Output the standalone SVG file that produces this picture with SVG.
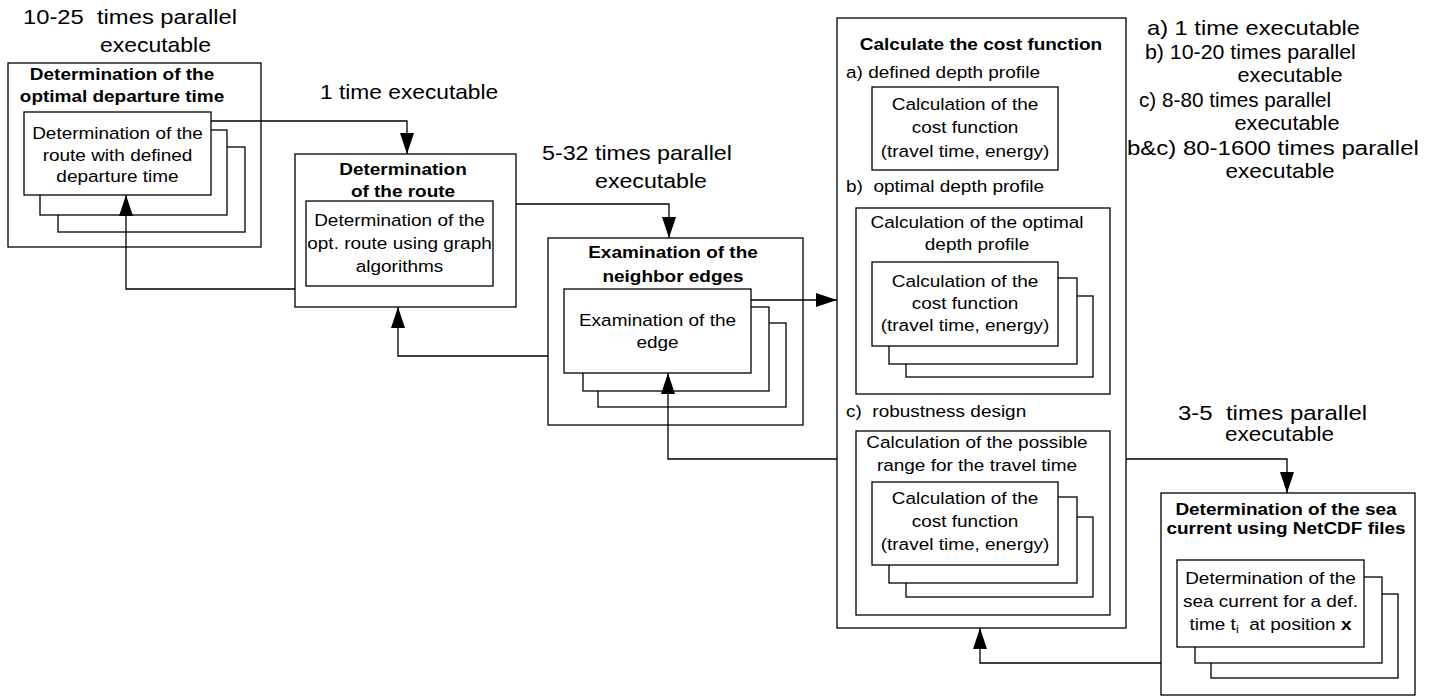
<svg xmlns="http://www.w3.org/2000/svg" width="1432" height="698" viewBox="0 0 1432 698">
<style>
.box{fill:#fff;stroke:#000;stroke-width:1.3}
.t{font-family:"Liberation Sans",Arial,sans-serif;font-size:16.5px;fill:#000}
.c{text-anchor:middle}
.b{font-weight:bold}
.big{font-family:"Liberation Sans",Arial,sans-serif;font-size:20.5px;fill:#000}
.conn{fill:none;stroke:#000;stroke-width:1.3}
</style>
<defs>
<marker id="ah" markerUnits="userSpaceOnUse" markerWidth="22" markerHeight="14" viewBox="0 0 22 14" refX="21" refY="7" orient="auto">
<path d="M0,0 L21,7 L0,14 Z" fill="#000"/>
</marker>
</defs>
<rect width="1432" height="698" fill="#fff"/>

<g id="labels">
<text class="big" transform="translate(23,24) scale(1.16,1)">10-25&#160; times parallel</text>
<text class="big" transform="translate(100,52) scale(1.12,1)">executable</text>
<text class="big" transform="translate(320,99) scale(1.11,1)">1 time executable</text>
<text class="big" transform="translate(542,160) scale(1.135,1)">5-32 times parallel</text>
<text class="big" transform="translate(595,188) scale(1.13,1)">executable</text>
<text class="big" transform="translate(1178,420) scale(1.17,1)">3-5&#160; times parallel</text>
<text class="big" transform="translate(1225,441) scale(1.1,1)">executable</text>
<text class="big" transform="translate(1147,35) scale(1.154,1)">a) 1 time executable</text>
<text class="big" transform="translate(1145,59) scale(1.04,1)">b) 10-20 times parallel</text>
<text class="big c" transform="translate(1290,82) scale(1.06,1)">executable</text>
<text class="big" transform="translate(1139,107) scale(1.01,1)">c) 8-80 times parallel</text>
<text class="big c" transform="translate(1287,130) scale(1.06,1)">executable</text>
<text class="big" transform="translate(1127,155) scale(1.17,1)">b&amp;c) 80-1600 times parallel</text>
<text class="big c" transform="translate(1280,178) scale(1.1,1)">executable</text>
</g>

<g id="departure">
<rect class="box" x="8" y="63" width="253" height="184"/>
<text class="t b c" transform="translate(122,80) scale(1.15,1)">Determination of the</text>
<text class="t b c" transform="translate(122,102) scale(1.15,1)">optimal departure time</text>
<rect class="box" x="58" y="147" width="187" height="85"/>
<rect class="box" x="40" y="130" width="187" height="85"/>
<rect class="box" x="24" y="112" width="187" height="83"/>
<text class="t c" transform="translate(117.5,139) scale(1.15,1)">Determination of the</text>
<text class="t c" transform="translate(117.5,161) scale(1.15,1)">route with defined</text>
<text class="t c" transform="translate(117.5,182) scale(1.15,1)">departure time</text>
</g>

<g id="route">
<rect class="box" x="295" y="154" width="221" height="153"/>
<text class="t b c" transform="translate(403,175) scale(1.15,1)">Determination</text>
<text class="t b c" transform="translate(403,197) scale(1.15,1)">of the route</text>
<rect class="box" x="306" y="201" width="187" height="85"/>
<text class="t c" transform="translate(399.5,226) scale(1.15,1)">Determination of the</text>
<text class="t c" transform="translate(399.5,249) scale(1.15,1)">opt. route using graph</text>
<text class="t c" transform="translate(399.5,272) scale(1.15,1)">algorithms</text>
</g>

<g id="neighbor">
<rect class="box" x="548" y="238" width="255" height="187"/>
<text class="t b c" transform="translate(673,258) scale(1.15,1)">Examination of the</text>
<text class="t b c" transform="translate(673,282) scale(1.15,1)">neighbor edges</text>
<rect class="box" x="598" y="323" width="188" height="84"/>
<rect class="box" x="583" y="307" width="186" height="84"/>
<rect class="box" x="564" y="289" width="187" height="84"/>
<text class="t c" transform="translate(657.5,326) scale(1.15,1)">Examination of the</text>
<text class="t c" transform="translate(657.5,348) scale(1.15,1)">edge</text>
</g>

<g id="cost">
<rect class="box" x="837" y="18" width="289" height="610"/>
<text class="t b c" transform="translate(981,50) scale(1.15,1)">Calculate the cost function</text>
<text class="t" transform="translate(846,78) scale(1.15,1)">a) defined depth profile</text>
<rect class="box" x="872" y="87" width="186" height="83"/>
<text class="t c" transform="translate(965,110) scale(1.15,1)">Calculation of the</text>
<text class="t c" transform="translate(965,133) scale(1.15,1)">cost function</text>
<text class="t c" transform="translate(965,157) scale(1.15,1)">(travel time, energy)</text>
<text class="t" transform="translate(846,192) scale(1.15,1)">b)&#160; optimal depth profile</text>
<rect class="box" x="856" y="208" width="254" height="186"/>
<text class="t c" transform="translate(977,228) scale(1.15,1)">Calculation of the optimal</text>
<text class="t c" transform="translate(977,250) scale(1.15,1)">depth profile</text>
<rect class="box" x="906" y="296" width="187" height="81"/>
<rect class="box" x="889" y="278" width="188" height="86"/>
<rect class="box" x="872" y="262" width="186" height="84"/>
<text class="t c" transform="translate(965,287) scale(1.15,1)">Calculation of the</text>
<text class="t c" transform="translate(965,309) scale(1.15,1)">cost function</text>
<text class="t c" transform="translate(965,331) scale(1.15,1)">(travel time, energy)</text>
<text class="t" transform="translate(846,417) scale(1.15,1)">c)&#160; robustness design</text>
<rect class="box" x="856" y="431" width="254" height="184"/>
<text class="t c" transform="translate(977,448) scale(1.15,1)">Calculation of the possible</text>
<text class="t c" transform="translate(977,471) scale(1.15,1)">range for the travel time</text>
<rect class="box" x="906" y="517" width="187" height="80"/>
<rect class="box" x="889" y="497" width="188" height="86"/>
<rect class="box" x="872" y="482" width="186" height="83"/>
<text class="t c" transform="translate(965,504) scale(1.15,1)">Calculation of the</text>
<text class="t c" transform="translate(965,527) scale(1.15,1)">cost function</text>
<text class="t c" transform="translate(965,550) scale(1.15,1)">(travel time, energy)</text>
</g>

<g id="sea">
<rect class="box" x="1161" y="493" width="254" height="202"/>
<text class="t b c" transform="translate(1286,515) scale(1.15,1)">Determination of the sea</text>
<text class="t b c" transform="translate(1286,534) scale(1.15,1)">current using NetCDF files</text>
<rect class="box" x="1211" y="594" width="187" height="84"/>
<rect class="box" x="1195" y="577" width="187" height="86"/>
<rect class="box" x="1177" y="560" width="187" height="87"/>
<text class="t c" transform="translate(1270.5,584) scale(1.15,1)">Determination of the</text>
<text class="t c" transform="translate(1270.5,607) scale(1.15,1)">sea current for a def.</text>
<text class="t c" transform="translate(1270.5,630) scale(1.15,1)">time t<tspan font-size="11" dy="3">i</tspan><tspan dy="-3">&#160; at position </tspan><tspan font-weight="bold">x</tspan></text>
</g>

<g id="connectors">
<path class="conn" d="M211,121 H407 V154" marker-end="url(#ah)"/>
<path class="conn" d="M295,289 H126 V195" marker-end="url(#ah)"/>
<path class="conn" d="M516,204 H669 V238" marker-end="url(#ah)"/>
<path class="conn" d="M751,300 H837" marker-end="url(#ah)"/>
<path class="conn" d="M548,356 H398 V307" marker-end="url(#ah)"/>
<path class="conn" d="M837,459 H668 V373" marker-end="url(#ah)"/>
<path class="conn" d="M1126,459 H1287 V493" marker-end="url(#ah)"/>
<path class="conn" d="M1161,663 H980 V628" marker-end="url(#ah)"/>
</g>
</svg>
